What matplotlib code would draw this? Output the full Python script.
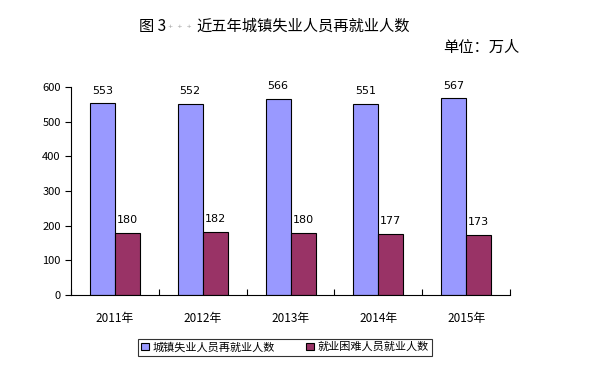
import matplotlib
matplotlib.use("Agg")
import matplotlib.pyplot as plt
import numpy as np

plt.rcParams["font.family"] = ["Noto Sans CJK SC", "DejaVu Sans"]

years = ["2011年", "2012年", "2013年", "2014年", "2015年"]
reemployed = [553, 552, 566, 551, 567]
difficult = [180, 182, 180, 177, 173]
series_names = ["城镇失业人员再就业人数", "就业困难人员就业人数"]

BLUE = "#9999FF"
RED = "#993366"

fig = plt.figure(figsize=(5.92, 3.9), dpi=100)
ax = fig.add_axes([0.12, 0.2436, 0.7415, 0.5334])

x = np.arange(len(years))
w = 0.285
b1 = ax.bar(x - w / 2, reemployed, w, color=BLUE, edgecolor="black", linewidth=0.8,
            label=series_names[0])
b2 = ax.bar(x + w / 2, difficult, w, color=RED, edgecolor="black", linewidth=0.8,
            label=series_names[1])

for bars, vals in ((b1, reemployed), (b2, difficult)):
    for rect, v in zip(bars, vals):
        ax.text(rect.get_x() + rect.get_width() / 2, v + 22, str(v),
                ha="center", va="bottom", fontsize=8, family="DejaVu Sans")

ax.set_xlim(-0.5, len(years) - 0.5)
ax.set_ylim(0, 600)
ax.set_yticks(range(0, 601, 100))
ax.tick_params(axis="y", labelsize=8, direction="out", length=4, width=0.8)
ax.set_xticks(x)
ax.set_xticklabels(years, fontsize=8.5)
ax.tick_params(axis="x", length=0, pad=12)
# category boundary ticks
ax.set_xticks(np.arange(-0.5, len(years)), minor=True)
ax.tick_params(axis="x", which="minor", direction="in", length=4, width=0.8)

ax.spines[["top", "right"]].set_visible(False)
for s in ("left", "bottom"):
    ax.spines[s].set_linewidth(0.8)

fig.text(0.235, 0.933, "图 3", ha="left", va="center", fontsize=11)
fig.text(0.284, 0.933, "+  +  +", ha="left", va="center", fontsize=4.5, color="#999999",
         family="DejaVu Sans")
fig.text(0.332, 0.933, "近五年城镇失业人员再就业人数", ha="left", va="center", fontsize=11)
fig.text(0.878, 0.878, "单位：万人", ha="right", va="center", fontsize=11)

leg = fig.legend(handles=[b1, b2], loc="center", bbox_to_anchor=(0.481, 0.11), ncol=2,
                 fontsize=8, frameon=True, fancybox=False, edgecolor="black",
                 handlelength=0.7, handleheight=0.7, handletextpad=0.3, columnspacing=2.8,
                 borderpad=0.3)
leg.get_frame().set_linewidth(0.8)

fig.savefig("out.png", dpi=100)
